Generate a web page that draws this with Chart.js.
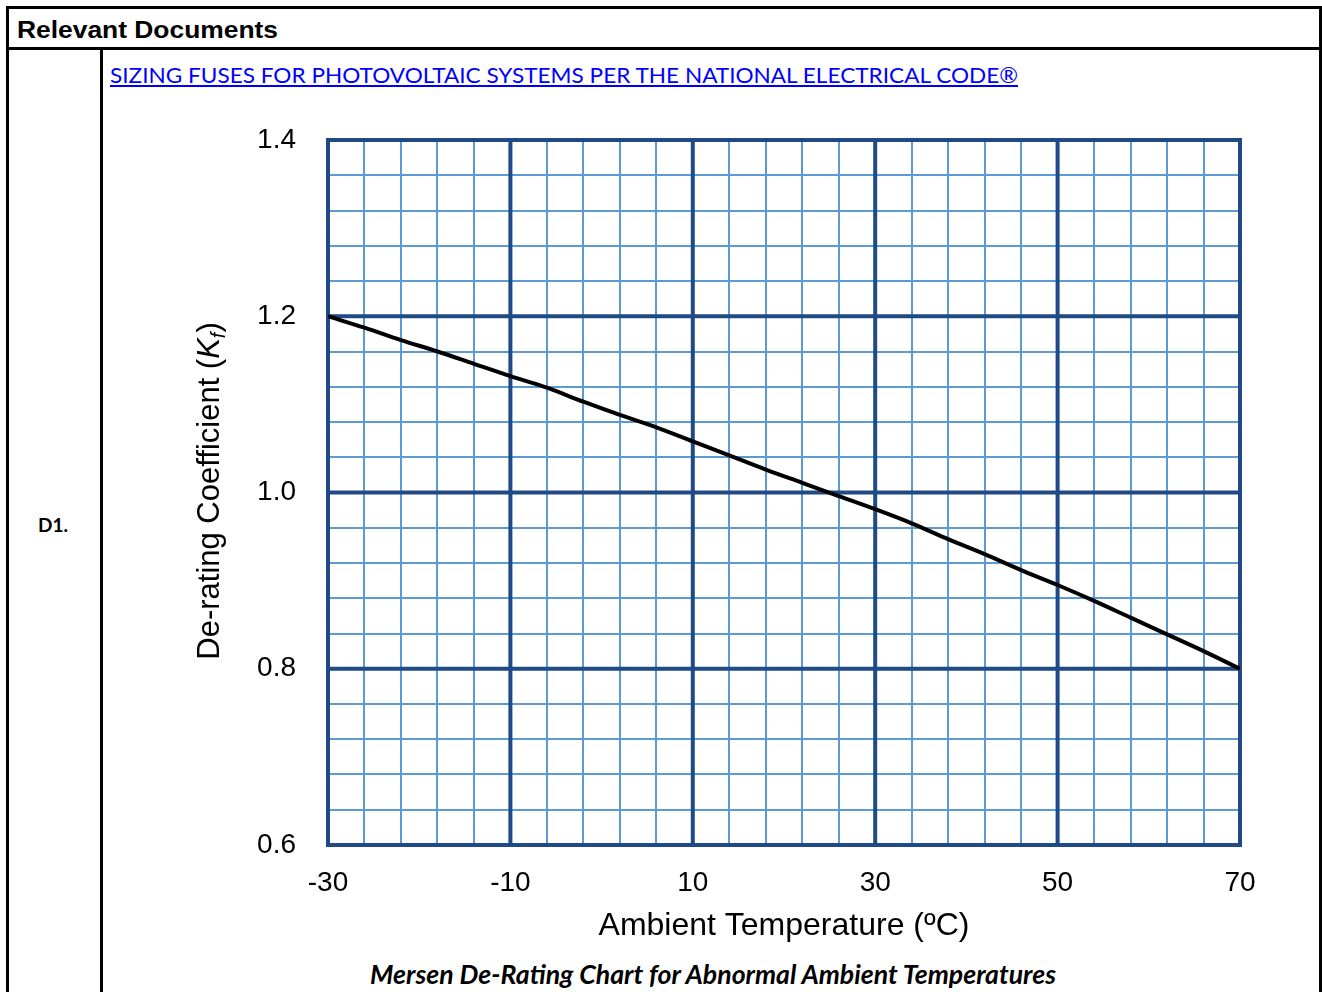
<!DOCTYPE html>
<html>
<head>
<meta charset="utf-8">
<script src="https://cdn.jsdelivr.net/npm/chart.js@4.4.1/dist/chart.umd.min.js"></script>
<style>
  html, body { margin: 0; padding: 0; background: #fff; width: 1322px; height: 992px; overflow: hidden; position: relative; }
  .ln { position: absolute; background: #000; }
  .txt { position: absolute; white-space: nowrap; transform-origin: 0 0; line-height: 1; }
  #head { left: 17px; top: 17px; font: bold 23px "Liberation Sans", Arial, sans-serif; color: #000; }
  #link { left: 110px; top: 62px; font: 21px Lato, "Open Sans", sans-serif; color: #0000ff; text-decoration: underline; }
  #d1 { left: 38px; top: 514px; font: bold 18px Lato, "Open Sans", sans-serif; color: #000; }
  #cap { left: 370px; top: 958px; font: italic bold 26px Lato, "Open Sans", sans-serif; color: #000; }
  #chart { position: absolute; left: 0; top: 0; }
</style>
</head>
<body>
<!-- table lines -->
<div class="ln" style="left:6px;top:6px;width:1316px;height:3px"></div>
<div class="ln" style="left:6px;top:6px;width:3px;height:986px"></div>
<div class="ln" style="left:1319px;top:6px;width:3px;height:986px"></div>
<div class="ln" style="left:6px;top:47px;width:1316px;height:3px"></div>
<div class="ln" style="left:100px;top:47px;width:3px;height:945px"></div>

<div class="txt" id="head">Relevant Documents</div>
<div class="txt" id="link">SIZING FUSES FOR PHOTOVOLTAIC SYSTEMS PER THE NATIONAL ELECTRICAL CODE®</div>
<div class="txt" id="d1">D1.</div>
<div class="txt" id="cap">Mersen De-Rating Chart for Abnormal Ambient Temperatures</div>

<canvas id="chart" width="1322" height="992"></canvas>

<script>
// values
var temps = [-30, -26, -22, -18, -14, -10, -6, -2, 2, 6, 10, 14, 18, 22, 26, 30, 34, 38, 42, 46, 50, 54, 58, 62, 66, 70];
var kf = [1.200, 1.187, 1.173, 1.160, 1.146, 1.132, 1.119, 1.103, 1.088, 1.074, 1.058, 1.042, 1.026,
          1.011, 0.996, 0.981, 0.965, 0.947, 0.930, 0.912, 0.895, 0.877, 0.858, 0.839, 0.820, 0.800];

// axis ticks
var xMajor = [-30, -10, 10, 30, 50, 70];
var yMajor = [0.6, 0.8, 1.0, 1.2, 1.4];
var xMinorStep = 4;
var yMinorStep = 0.04;

var DARK = '#1f4a86';
var LIGHT = '#5b9bd5';
var AXIS_FONT = '"Liberation Sans", Arial, sans-serif';

function isMajor(list, v) {
    return list.some(function (m) { return Math.abs(m - v) < 1e-6; });
}

// stretch a text block to the width it has in the picture
function fitWidth(id, w) {
    var el = document.getElementById(id);
    var cur = el.getBoundingClientRect().width;
    el.style.transform = 'scaleX(' + (w / cur) + ')';
}
fitWidth('head', 261);
fitWidth('link', 908);
fitWidth('d1', 30);
fitWidth('cap', 686);

/*
 * Thick dark lines on top of the light grid
 */
var majorGrid = {
    id: 'majorGrid',
    beforeDatasetsDraw: function (chart) {
        var ctx = chart.ctx, a = chart.chartArea, x = chart.scales.x, y = chart.scales.y;
        ctx.save();
        ctx.strokeStyle = DARK;
        ctx.lineWidth = 4;
        ctx.lineCap = 'square';
        ctx.beginPath();
        xMajor.forEach(function (v) {
            var px = x.getPixelForValue(v);
            ctx.moveTo(px, a.top);
            ctx.lineTo(px, a.bottom);
        });
        yMajor.forEach(function (v) {
            var py = y.getPixelForValue(v);
            ctx.moveTo(a.left, py);
            ctx.lineTo(a.right, py);
        });
        ctx.stroke();
        ctx.restore();
    }
};

/*
 * Rotated y title with italic K and subscript f
 */
var yTitle = {
    id: 'yTitle',
    afterDraw: function (chart) {
        var ctx = chart.ctx;
        var parts = [
            { t: 'De-rating Coefficient (', f: '31px ' + AXIS_FONT, dy: 0 },
            { t: 'K', f: 'italic 31px ' + AXIS_FONT, dy: 0 },
            { t: 'f', f: 'italic 20px ' + AXIS_FONT, dy: 6 },
            { t: ')', f: '31px ' + AXIS_FONT, dy: 0 }
        ];
        ctx.save();
        ctx.translate(219, 491);
        ctx.rotate(-Math.PI / 2);
        ctx.fillStyle = '#000';
        ctx.textBaseline = 'alphabetic';
        var total = 0;
        parts.forEach(function (p) { ctx.font = p.f; p.w = ctx.measureText(p.t).width; total += p.w; });
        var u = -total / 2;
        parts.forEach(function (p) {
            ctx.font = p.f;
            ctx.fillText(p.t, u, p.dy);
            u += p.w;
        });
        ctx.restore();
    }
};

new Chart(document.getElementById('chart'), {
    type: 'line',
    data: {
        datasets: [{
            data: temps.map(function (t, i) { return { x: t, y: kf[i] }; }),
            borderColor: '#000',
            borderWidth: 4,
            pointRadius: 0,
            cubicInterpolationMode: 'monotone',
            fill: false
        }]
    },
    options: {
        responsive: false,
        animation: false,
        events: [],
        layout: { padding: { left: 180, right: 82, top: 140, bottom: 47 } },
        plugins: { legend: { display: false }, tooltip: { enabled: false } },
        scales: {
            x: {
                type: 'linear',
                min: -30,
                max: 70,
                afterFit: function (s) { s.height = 100; },
                border: { display: false },
                grid: { color: LIGHT, lineWidth: 2, drawTicks: false },
                ticks: {
                    stepSize: xMinorStep,
                    autoSkip: false,
                    maxRotation: 0,
                    padding: 21,
                    color: '#000',
                    font: { family: AXIS_FONT, size: 28 },
                    callback: function (v) { return isMajor(xMajor, v) ? String(Math.round(v)) : ''; }
                },
                title: {
                    display: true,
                    text: 'Ambient Temperature (ºC)',
                    color: '#000',
                    font: { family: AXIS_FONT, size: 32 },
                    padding: { top: 0, bottom: 0 }
                }
            },
            y: {
                type: 'linear',
                min: 0.6,
                max: 1.4,
                afterFit: function (s) { s.width = 148; },
                border: { display: false },
                grid: { color: LIGHT, lineWidth: 2, drawTicks: false },
                ticks: {
                    stepSize: yMinorStep,
                    autoSkip: false,
                    padding: 32,
                    color: '#000',
                    font: { family: AXIS_FONT, size: 28 },
                    callback: function (v) { return isMajor(yMajor, v) ? v.toFixed(1) : ''; }
                }
            }
        }
    },
    plugins: [majorGrid, yTitle]
});
</script>
</body>
</html>
